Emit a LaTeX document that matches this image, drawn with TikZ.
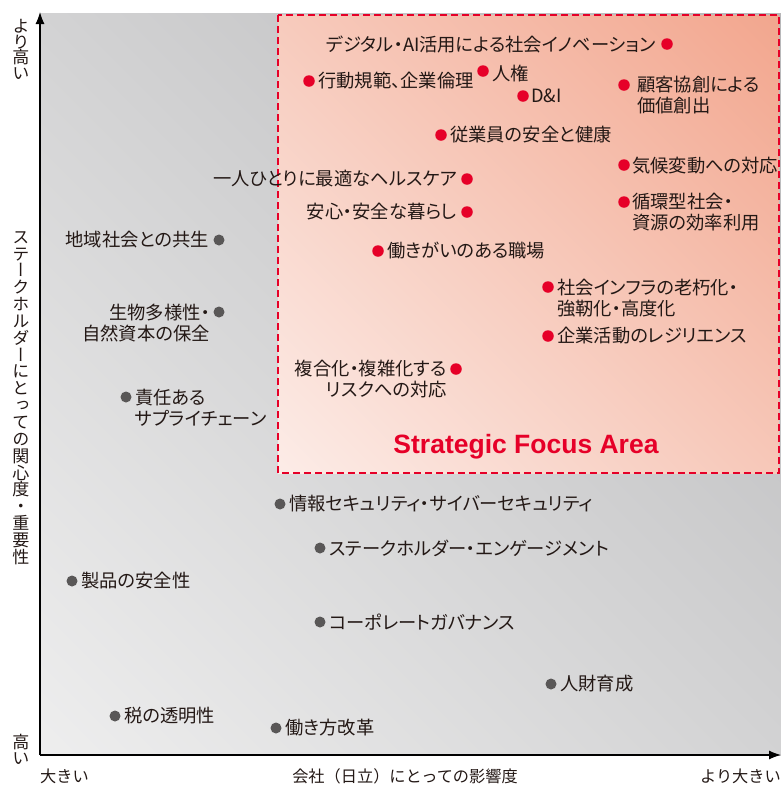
\documentclass[tikz,border=0pt]{standalone}
\usepackage{fontspec}
\setmainfont{Noto Sans CJK JP}[RawFeature=+palt]
\newfontfamily\fjp{Noto Sans CJK JP}
\newfontfamily\vjp{Noto Sans CJK JP}[RawFeature=+vert]
\newfontfamily\enb{Liberation Sans}
\usetikzlibrary{arrows.meta}
\definecolor{hred}{RGB}{230,0,40}
\definecolor{dotgray}{RGB}{89,87,87}
\definecolor{txt}{RGB}{35,24,21}
\definecolor{redA}{RGB}{254,250,249}
\definecolor{redB}{RGB}{240,152,124}
\definecolor{grayA}{RGB}{249,249,249}
\definecolor{grayB}{RGB}{172,172,174}
\pgfdeclareverticalshading{redsh}{100bp}{color(0bp)=(redA); color(100bp)=(redB)}
\pgfdeclareverticalshading{graysh}{100bp}{color(0bp)=(grayA); color(100bp)=(grayB)}
\begin{document}
\begin{tikzpicture}[x=1pt,y=-1pt,
  rdot/.style={circle,fill=hred,inner sep=0pt,minimum size=11.5pt},
  gdot/.style={circle,fill=dotgray,inner sep=0pt,minimum size=11pt},
  lab/.style={inner sep=0pt,text=txt,font=\fontsize{18.3}{21}\selectfont,align=left,anchor=west},
  labr/.style={inner sep=0pt,text=txt,font=\fontsize{18.3}{21}\selectfont,align=right,anchor=east},
  axlab/.style={inner sep=0pt,text=txt,font=\fjp\fontsize{16.2}{19}\selectfont},
  vlab/.style={inner sep=0pt,text=txt,align=center},
  axisline/.style={line width=1.1pt,-{Latex[length=12pt,width=9pt]}},
  focus/.style={draw=hred,line width=2pt,dash pattern=on 7pt off 4pt}]
\useasboundingbox (0,0) rectangle (781,785);
% backgrounds
\shade[shading=graysh,shading angle=-45] (40,13) rectangle (781,755);
\shade[shading=redsh,shading angle=-45] (278,15) rectangle (779,473);
\path[focus] (278,15) rectangle (779,473);
% axes
\coordinate (o) at (40,755);
\coordinate (ytop) at (40,12);
\coordinate (xend) at (781,755);
\draw[axisline] (o) -- (ytop);
\draw[axisline] (o) -- (xend);
% axis labels
\node[vlab,font=\vjp\fontsize{17}{15.7}\selectfont] (yhi) at (21,49.5) {よ\\り\\高\\い};
\node[vlab,font=\vjp\fontsize{17}{16.85}\selectfont] (ytitle) at (21,398) {ス\\テ\\ー\\ク\\ホ\\ル\\ダ\\ー\\に\\と\\っ\\て\\の\\関\\心\\度\\・\\重\\要\\性};
\node[vlab,font=\vjp\fontsize{17}{16}\selectfont] (ylo) at (21,749) {高\\い};
\node[axlab,anchor=west] (xlo) at (40,776) {大きい};
\node[axlab] (xtitle) at (405,776) {会社（日立）にとっての影響度};
\node[axlab,anchor=east] (xhi) at (781,776) {より大きい};
% focus title
\node[inner sep=0pt,text=hred,font=\enb\bfseries\fontsize{26.5}{30}\selectfont] (sfa) at (526,447) {Strategic Focus Area};
% red items
\node[rdot] (r1) at (667,44) {};
\node[labr] (t1) at (656,44) {デジタル・AI活用による社会イノベーション};
\node[rdot] (r2) at (309,81) {};
\node[lab] (t2) at (318,81) {行動規範、企業倫理};
\node[rdot] (r3) at (483,71) {};
\node[lab] (t3) at (492,73) {人権};
\node[rdot] (r4) at (523,96) {};
\node[lab] (t4) at (531,96) {D\&I};
\node[rdot] (r5) at (624,85) {};
\node[lab] (t5) at (637,95.5) {顧客協創による\\価値創出};
\node[rdot] (r6) at (441,135) {};
\node[lab] (t6) at (450,135) {従業員の安全と健康};
\node[rdot] (r7) at (467,179) {};
\node[labr] (t7) at (457,179) {一人ひとりに最適なヘルスケア};
\node[rdot] (r8) at (624,165) {};
\node[lab] (t8) at (632,166) {気候変動への対応};
\node[rdot] (r9) at (467,212) {};
\node[labr] (t9) at (457,212) {安心・安全な暮らし};
\node[rdot] (r10) at (624,202) {};
\node[lab] (t10) at (632,212.5) {循環型社会・\\資源の効率利用};
\node[rdot] (r11) at (378,251) {};
\node[lab] (t11) at (387,251) {働きがいのある職場};
\node[rdot] (r12) at (548,287) {};
\node[lab] (t12) at (557,298) {社会インフラの老朽化・\\強靭化・高度化};
\node[rdot] (r13) at (548,336) {};
\node[lab] (t13) at (557,336) {企業活動のレジリエンス};
\node[rdot] (r14) at (456,369) {};
\node[labr] (t14) at (447,379.5) {複合化・複雑化する\\リスクへの対応};
% gray items
\node[gdot] (g1) at (219,240) {};
\node[labr] (u1) at (209,240) {地域社会との共生};
\node[gdot] (g2) at (219,312) {};
\node[labr] (u2) at (210,323) {生物多様性・\\自然資本の保全};
\node[gdot] (g3) at (126,397) {};
\node[lab] (u3) at (135,407.5) {責任ある\\サプライチェーン};
\node[gdot] (g4) at (280,504) {};
\node[lab] (u4) at (289,504) {情報セキュリティ・サイバーセキュリティ};
\node[gdot] (g5) at (320,548) {};
\node[lab] (u5) at (329,548) {ステークホルダー・エンゲージメント};
\node[gdot] (g6) at (72,581) {};
\node[lab] (u6) at (81,581) {製品の安全性};
\node[gdot] (g7) at (320,622) {};
\node[lab] (u7) at (329,622) {コーポレートガバナンス};
\node[gdot] (g8) at (551,684) {};
\node[lab] (u8) at (560,684) {人財育成};
\node[gdot] (g9) at (115,716) {};
\node[lab] (u9) at (124,716) {税の透明性};
\node[gdot] (g10) at (276,728) {};
\node[lab] (u10) at (285,728) {働き方改革};
\end{tikzpicture}
\end{document}
